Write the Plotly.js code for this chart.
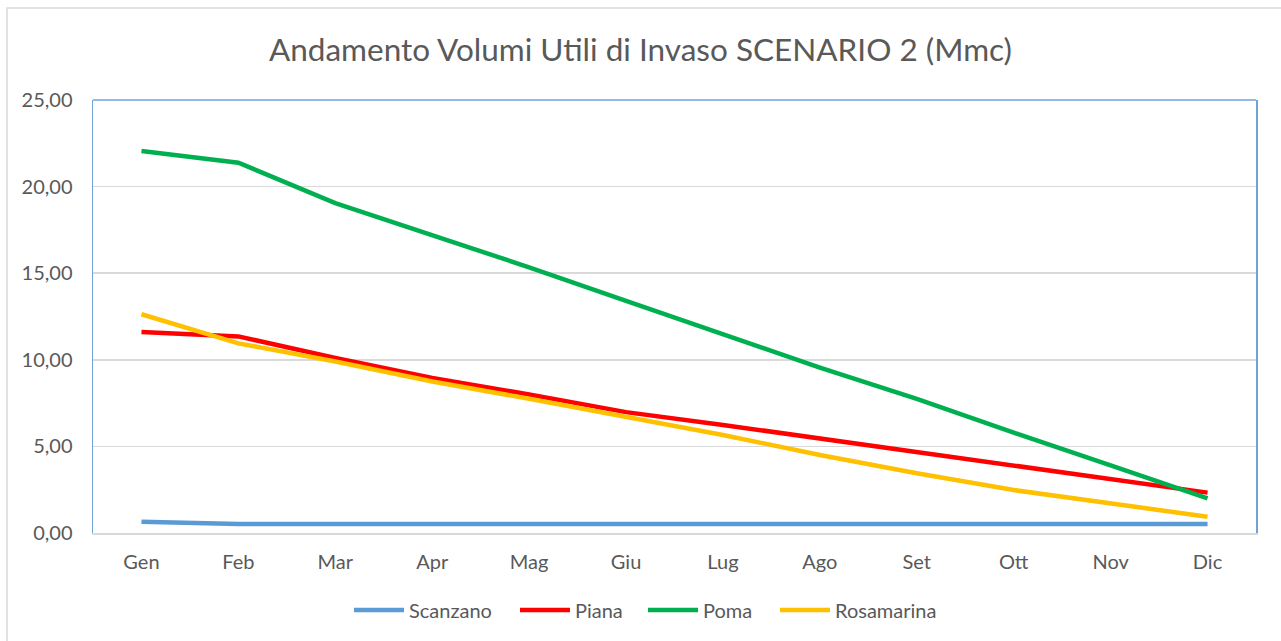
<!DOCTYPE html>
<html>
<head>
<meta charset="utf-8">
<script src="https://cdn.plot.ly/plotly-3.0.1.min.js"></script>
<style>
html,body{margin:0;padding:0;background:#fff;}
#chart{width:1281px;height:641px;}
</style>
</head>
<body>
<div id="chart"></div>
<script>
const months = ["Gen","Feb","Mar","Apr","Mag","Giu","Lug","Ago","Set","Ott","Nov","Dic"];
const scanzano = [0.65,0.52,0.52,0.52,0.52,0.52,0.52,0.52,0.52,0.52,0.52,0.52];
const piana = [11.6,11.35,10.1,8.95,8.0,6.98,6.24,5.47,4.7,3.93,3.12,2.33];
const poma = [22.05,21.38,19.05,17.2,15.34,13.4,11.49,9.55,7.74,5.79,3.91,2.0];
const rosamarina = [12.63,10.95,9.9,8.75,7.75,6.72,5.66,4.5,3.45,2.48,1.71,0.94];
const seriesNames = ["Scanzano","Piana","Poma","Rosamarina"];
const seriesColors = ["#5B9BD5","#FF0000","#00B050","#FFC000"];
const seriesData = [scanzano, piana, poma, rosamarina];

const FONT = "Lato, 'Open Sans', sans-serif";
const legendIds = ["legend","legend2","legend3","legend4"];
const legendLeftPx = [349, 515, 643, 775];
const PLOT_L = 93, PLOT_W = 1163;

const traces = seriesData.map((vals, i) => ({
  type: "scatter",
  mode: "lines",
  name: seriesNames[i],
  x: months,
  y: vals,
  legend: legendIds[i],
  line: {color: seriesColors[i], width: 4.5}
}));

const layout = {
  width: 1281,
  height: 641,
  margin: {l: 93, r: 25, t: 100, b: 108, autoexpand: false},
  paper_bgcolor: "#ffffff",
  plot_bgcolor: "#ffffff",
  separators: ",.",
  font: {family: FONT, color: "#595959", size: 20},
  title: {
    text: "Andamento Volumi Utili di Invaso SCENARIO 2 (Mmc)",
    font: {family: FONT, size: 31.5, color: "#595959"},
    x: 0.5, xanchor: "center",
    y: 1 - 50/641, yanchor: "middle", yref: "container"
  },
  xaxis: {
    type: "category",
    range: [-0.5, 11.5],
    showgrid: false,
    showline: true,
    linecolor: "#d9d9d9",
    linewidth: 1.5,
    ticks: "outside",
    ticklen: 10,
    tickcolor: "rgba(0,0,0,0)",
    tickfont: {family: FONT, size: 20, color: "#595959"},
    zeroline: false,
    fixedrange: true
  },
  yaxis: {
    range: [0, 25],
    dtick: 5,
    tickformat: ".2f",
    showgrid: true,
    gridcolor: "#d9d9d9",
    gridwidth: 1.5,
    showline: true,
    linecolor: "#6fa3d8",
    linewidth: 1.5,
    mirror: true,
    ticks: "outside",
    ticklen: 15,
    tickcolor: "rgba(0,0,0,0)",
    tickfont: {family: FONT, size: 20, color: "#595959"},
    zeroline: false,
    fixedrange: true
  },
  showlegend: true,
  shapes: [
    {type: "line", xref: "paper", yref: "paper", x0: 0, x1: 1, y0: 1, y1: 1,
     line: {color: "#6fa3d8", width: 1.5}},
    {type: "rect", xref: "paper", yref: "paper",
     x0: -86/1163, x1: 1.2, y0: 1 + 92/433, y1: -0.5,
     line: {color: "#d9d9d9", width: 1.5}, layer: "below"}
  ]
};

legendIds.forEach((id, i) => {
  layout[id] = {
    orientation: "h",
    x: (legendLeftPx[i] - PLOT_L) / PLOT_W, xanchor: "left",
    y: -0.178, yanchor: "middle",
    font: {family: FONT, size: 20, color: "#595959"},
    itemwidth: 50,
    bgcolor: "rgba(0,0,0,0)"
  };
});

Plotly.newPlot("chart", traces, layout, {displayModeBar: false, staticPlot: true});
</script>
</body>
</html>
